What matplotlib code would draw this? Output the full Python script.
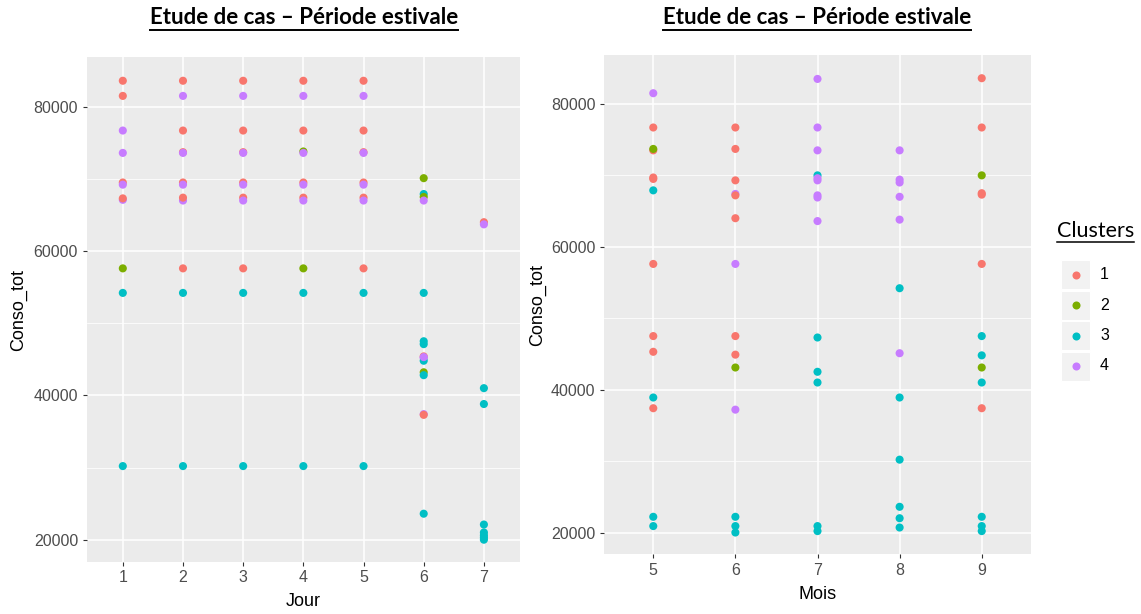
import matplotlib
matplotlib.use("Agg")
import matplotlib.pyplot as plt
from matplotlib.lines import Line2D
from matplotlib.patches import Rectangle

# ---------------- data ----------------
cluster_labels = ["1", "2", "3", "4"]
cluster_colors = ["#F8766D", "#7CAE00", "#00BFC4", "#C77CFF"]

jour = [1]*11 + [2]*12 + [3]*12 + [4]*12 + [5]*12 + [6]*16 + [7]*9
jour_conso = [
    83600, 81500, 76700, 73600, 67100, 67300, 69500, 69200, 57600, 54200, 30200,
    83600, 81500, 76700, 73700, 73600, 67000, 67400, 69500, 69200, 57600, 54200, 30200,
    83600, 81500, 76700, 73700, 73600, 67400, 67000, 69500, 69200, 57600, 54200, 30200,
    83600, 81500, 76700, 73800, 73600, 67400, 67000, 69500, 69200, 57600, 54200, 30200,
    83600, 81500, 76700, 73700, 73600, 67400, 67000, 69500, 69200, 57600, 54200, 30200,
    70100, 67900, 67500, 67000, 54200, 47500, 47100, 45400, 45200, 44800, 43200, 42800,
    37400, 37300, 23600, 45300,
    64000, 63700, 41000, 38800, 22100, 21000, 20600, 20300, 20000,
]
jour_cluster = [
    1, 1, 4, 4, 4, 1, 1, 4, 2, 3, 3,
    1, 4, 1, 1, 4, 4, 1, 1, 4, 1, 3, 3,
    1, 4, 1, 1, 4, 1, 4, 1, 4, 1, 3, 3,
    1, 4, 1, 2, 4, 1, 4, 1, 4, 2, 3, 3,
    1, 4, 1, 1, 4, 1, 4, 1, 4, 1, 3, 3,
    2, 3, 2, 4, 3, 3, 3, 1, 4, 3, 2, 3,
    4, 1, 3, 4,
    1, 4, 3, 3, 3, 3, 3, 3, 3,
]

mois = [5]*14 + [6]*14 + [7]*14 + [8]*12 + [9]*14
mois_conso = [
    81500, 76700, 73500, 73700, 69500, 69700, 67900, 57600, 47500, 45300, 38900, 37400, 22200, 20900,
    76700, 73700, 69300, 67400, 67200, 64000, 57600, 47500, 44900, 43100, 37200, 22200, 20900, 20000,
    83500, 76700, 73500, 70000, 69600, 69300, 67200, 66900, 63600, 47300, 42500, 41000, 20900, 20200,
    73500, 69400, 69000, 67000, 63800, 54200, 45100, 38900, 30200, 23600, 22000, 20700,
    83600, 76700, 70000, 67500, 67300, 57600, 47500, 44800, 43100, 41000, 37400, 22200, 20900, 20200,
]
mois_cluster = [
    4, 1, 1, 2, 1, 1, 3, 1, 1, 1, 3, 1, 3, 3,
    1, 1, 1, 4, 1, 1, 4, 1, 1, 2, 4, 3, 3, 3,
    4, 4, 4, 3, 4, 4, 4, 4, 4, 3, 3, 3, 3, 3,
    4, 4, 4, 4, 4, 3, 4, 3, 3, 3, 3, 3,
    1, 1, 2, 1, 1, 1, 3, 3, 2, 3, 1, 3, 3, 3,
]

jour_ticks = [1, 2, 3, 4, 5, 6, 7]
mois_ticks = [5, 6, 7, 8, 9]
y_ticks = [20000, 40000, 60000, 80000]
y_minor = [30000, 50000, 70000]
title_text = "Etude de cas \u2013 P\u00e9riode estivale"

# ---------------- figure ----------------
W, H = 1141, 614
fig = plt.figure(figsize=(W / 100, H / 100), dpi=100)


def px_axes(x0, y0, x1, y1):
    return fig.add_axes([x0 / W, 1 - y1 / H, (x1 - x0) / W, (y1 - y0) / H])


def style(ax, xt, xlim):
    ax.set_facecolor("#EBEBEB")
    for s in ax.spines.values():
        s.set_visible(False)
    ax.set_xlim(*xlim)
    ax.set_ylim(16950, 86850)
    ax.set_xticks(xt)
    ax.set_xticklabels([str(v) for v in xt])
    ax.set_yticks(y_ticks)
    ax.set_yticklabels([str(v) for v in y_ticks])
    ax.set_yticks(y_minor, minor=True)
    ax.tick_params(axis="y", which="minor", length=0)
    ax.grid(True, which="major", color="white", linewidth=1.1)
    ax.grid(True, which="minor", axis="y", color="white", linewidth=0.55)
    ax.set_axisbelow(True)
    ax.tick_params(which="major", length=3.2, width=0.8, color="#333333",
                   labelsize=11.5, labelcolor="#4D4D4D", pad=3)
    for lab in ax.get_xticklabels() + ax.get_yticklabels():
        lab.set_fontfamily("Liberation Sans")


ax1 = px_axes(86.7, 57.3, 520, 561.7)
ax2 = px_axes(604, 55, 1031, 554.3)
style(ax1, jour_ticks, (0.4, 7.6))
style(ax2, mois_ticks, (4.4, 9.6))

ax1.scatter(jour, jour_conso, c=[cluster_colors[k - 1] for k in jour_cluster],
            s=34, linewidths=0, zorder=3)
ax2.scatter(mois, mois_conso, c=[cluster_colors[k - 1] for k in mois_cluster],
            s=34, linewidths=0, zorder=3)

lab_font = dict(family="Liberation Sans", size=13, color="black")
ax1.set_xlabel("Jour", labelpad=5.5, **lab_font)
ax2.set_xlabel("Mois", labelpad=5.5, **lab_font)
ax1.set_ylabel("Conso_tot", labelpad=4.5, **lab_font)
ax2.set_ylabel("Conso_tot", labelpad=3.5, **lab_font)

# titles (bold, underlined)
t1 = fig.text(304 / W, 1 - 18 / H, title_text, ha="center", va="center",
              family="Lato", weight="bold", size=16, color="black")
t2 = fig.text(817 / W, 1 - 18 / H, title_text, ha="center", va="center",
              family="Lato", weight="bold", size=16, color="black")

# legend (manual, ggplot-style)
lt = fig.text(1057 / W, 1 - 231 / H, "Clusters", ha="left", va="center",
              family="Lato", size=15.5, color="black")
key_centers = [274.5, 305, 335.5, 366]
for lab, col, yc in zip(cluster_labels, cluster_colors, key_centers):
    fig.patches.append(Rectangle(((1061) / W, 1 - (yc + 14.5) / H), 29 / W, 29 / H,
                                 transform=fig.transFigure, facecolor="#F2F2F2",
                                 edgecolor="white", linewidth=0.8))
    fig.lines.append(Line2D([1075.5 / W], [1 - yc / H], marker="o", markersize=5.8,
                            color=col, markeredgewidth=0, transform=fig.transFigure))
    fig.text(1100 / W, 1 - yc / H, lab, ha="left", va="center",
             family="Liberation Sans", size=11.5, color="black")

# underlines
fig.canvas.draw()
r = fig.canvas.get_renderer()
for t, lw in ((t1, 1.4), (t2, 1.4), (lt, 1.1)):
    bb = t.get_window_extent(renderer=r)
    y = bb.y0 - 1
    fig.lines.append(Line2D([bb.x0 / W, bb.x1 / W], [y / H, y / H], color="black",
                            linewidth=lw, transform=fig.transFigure))

fig.savefig("out.png", dpi=100)
